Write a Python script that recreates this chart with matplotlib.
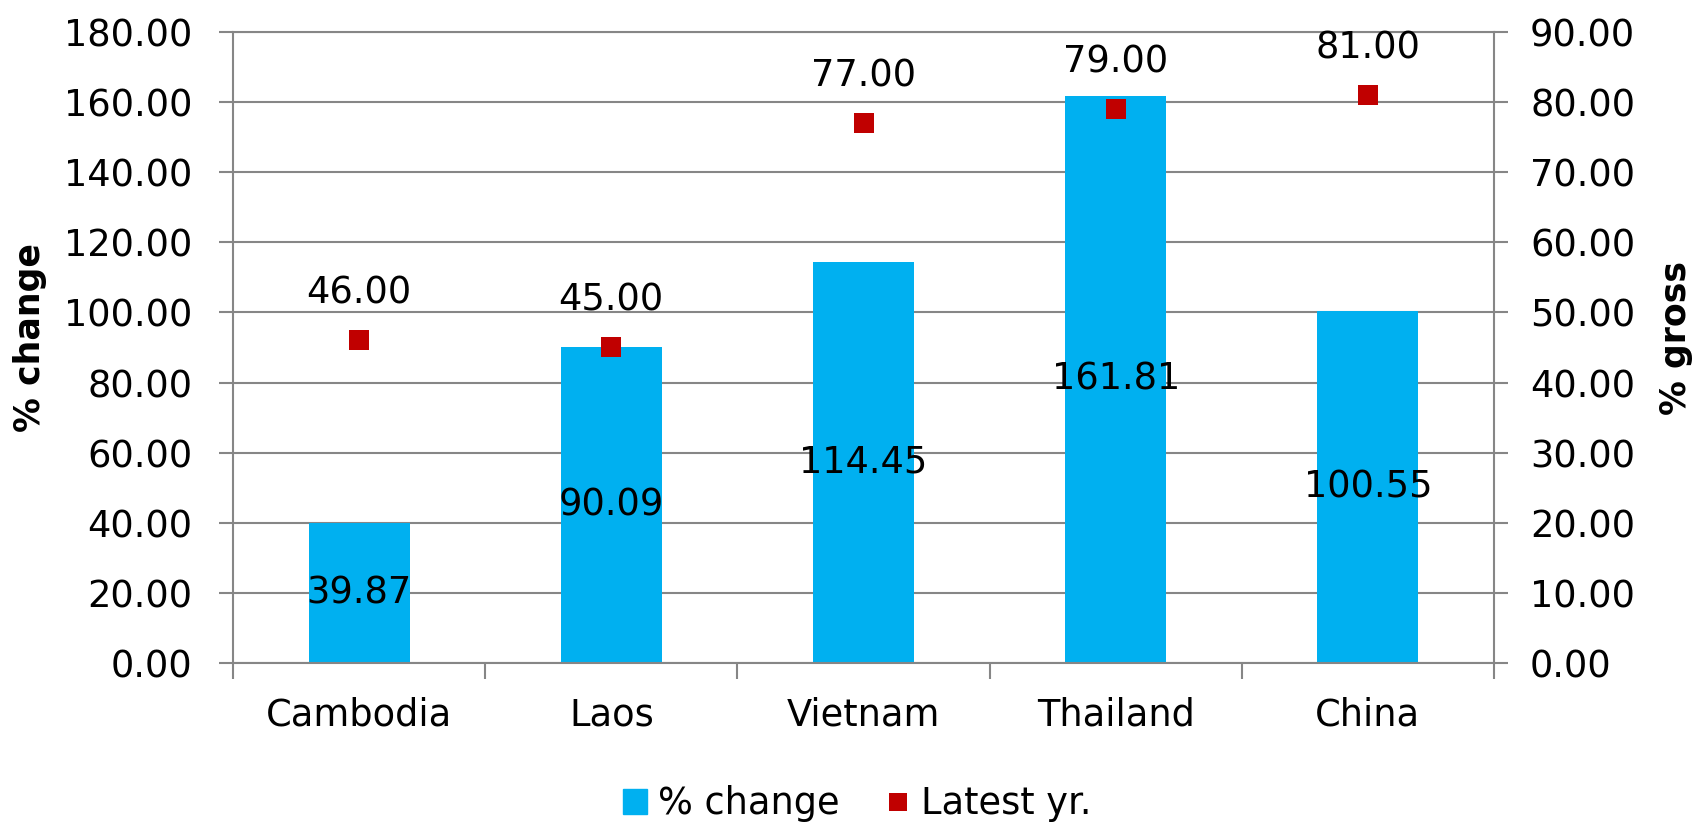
import matplotlib
matplotlib.use('Agg')
import matplotlib.pyplot as plt
import matplotlib.ticker as mticker
from matplotlib.patches import Patch
from matplotlib.lines import Line2D
import numpy as np

# data
countries = ['Cambodia', 'Laos', 'Vietnam', 'Thailand', 'China']
pct_change = [39.87, 90.09, 114.45, 161.81, 100.55]
latest_yr = [46.00, 45.00, 77.00, 79.00, 81.00]
left_ticks = np.arange(0, 181, 20)
right_ticks = np.arange(0, 91, 10)

plt.rcParams['font.family'] = ['DejaVu Sans']
fs = 26.5
grey = '#868686'
blue = '#00B0F0'
red = '#C00000'
lw = 1.5

fig = plt.figure(figsize=(17.04, 8.22), dpi=100)
ax = fig.add_axes([233 / 1704, 159 / 822, 1261 / 1704, 631 / 822])

# bars on left axis
x = np.arange(len(countries))
bars = ax.bar(x, pct_change, width=0.4, color=blue, zorder=2)
ax.bar_label(bars, fmt='%.2f', label_type='center', fontsize=fs)

ax.set_xlim(-0.5, len(countries) - 0.5)
ax.set_ylim(0, 180)
ax.set_yticks(left_ticks)
ax.yaxis.set_major_formatter(mticker.FormatStrFormatter('%.2f'))
ax.grid(axis='y', color=grey, lw=lw)
ax.set_axisbelow(True)

# category labels in the middle, tick marks on the boundaries
ax.set_xticks(x)
ax.set_xticklabels(countries)
ax.set_xticks(np.arange(-0.5, len(countries), 1), minor=True)
ax.tick_params(axis='x', which='major', length=0, pad=24, labelsize=fs)
ax.tick_params(axis='x', which='minor', length=11.5, width=lw, color=grey)
ax.tick_params(axis='y', length=10, width=lw, color=grey, pad=19, labelsize=fs)
for s in ax.spines.values():
    s.set_color(grey)
    s.set_linewidth(lw)
ax.spines['right'].set_visible(False)

ax.set_ylabel('% change', fontsize=25, fontweight='bold')
ax.yaxis.set_label_coords(-0.161, 0.515)
ax.yaxis.label.set_va('center')

# markers on right axis
ax2 = ax.twinx()
ax2.plot(x, latest_yr, ls='none', marker='s', ms=13.7, mew=0, color=red)
for xi, v in zip(x, latest_yr):
    ax2.annotate(f'{v:.2f}', (xi, v), xytext=(0, 34), textcoords='offset points',
                 ha='center', va='center', fontsize=fs)
ax2.set_ylim(0, 90)
ax2.set_yticks(right_ticks)
ax2.yaxis.set_major_formatter(mticker.FormatStrFormatter('%.2f'))
ax2.tick_params(axis='y', length=10, width=lw, color=grey, pad=16, labelsize=fs)
for name, s in ax2.spines.items():
    s.set_color(grey)
    s.set_linewidth(lw)
    if name != 'right':
        s.set_visible(False)

ax2.set_ylabel('% gross', fontsize=25, fontweight='bold')
ax2.yaxis.set_label_coords(1.144, 0.515)
ax2.yaxis.label.set_va('center')

# legend at the bottom
handles = [Patch(color=blue, label='% change'),
           Line2D([], [], ls='none', marker='s', ms=12.5, mew=0, color=red,
                  label='Latest yr.')]
fig.legend(handles=handles, loc='center', bbox_to_anchor=(0.503, 0.022), ncol=2,
           frameon=False, fontsize=fs, handlelength=0.65, handleheight=0.65,
           handletextpad=0.3, columnspacing=1.25)

fig.savefig('out.png', dpi=100)
